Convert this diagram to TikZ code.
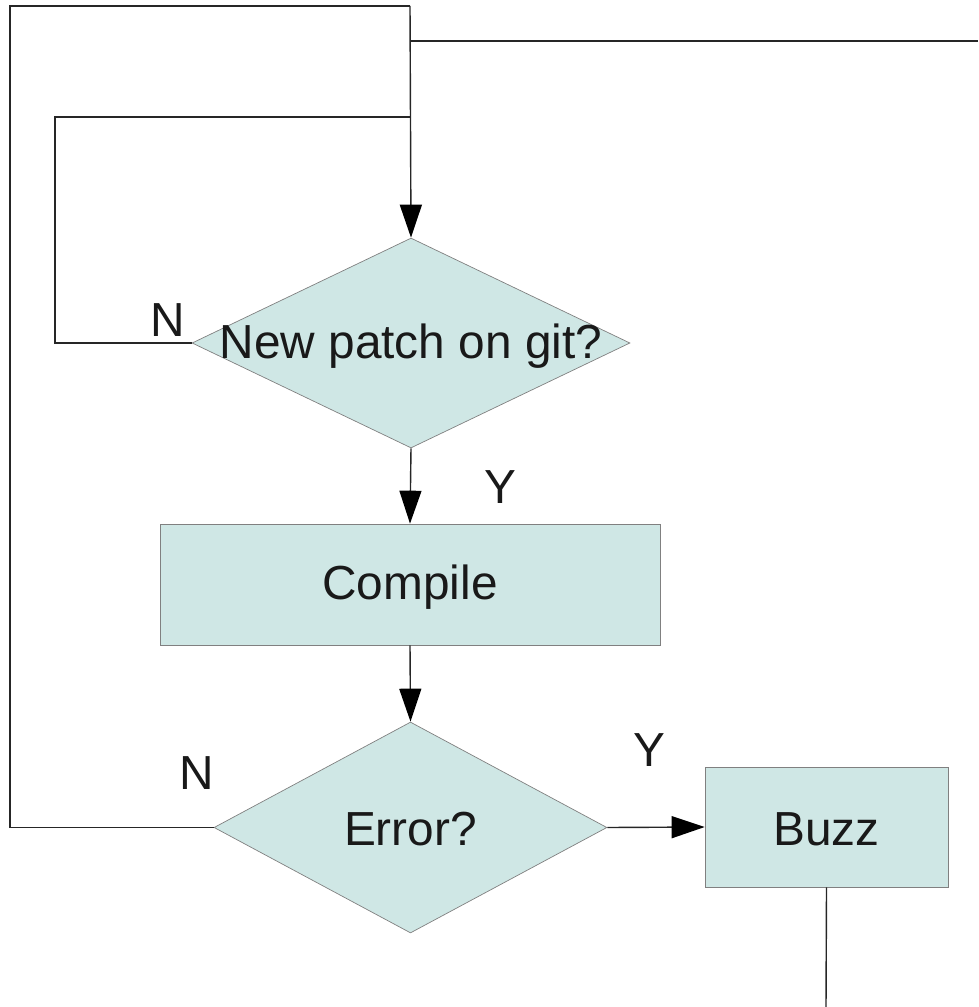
\documentclass[tikz,border=0pt]{standalone}
\usepackage{fontspec}
\setmainfont{Liberation Sans}
\usepackage{tikz}
\usepackage{xcolor}
\usetikzlibrary{positioning, calc, shapes.geometric, arrows.meta}

\definecolor{boxfill}{RGB}{207,231,229}

\begin{document}
\begin{tikzpicture}[x=0.02cm, y=-0.02cm,
        every node/.style={font=\fontsize{27.2}{32}\selectfont, text=black!90},
        decision/.style={diamond, draw=gray, fill=boxfill, inner sep=0pt},
        process/.style={rectangle, draw=gray, fill=boxfill, inner sep=0pt},
        link/.style={draw=black!85, line width=0.8pt},
        arrow/.style={link, -{Triangle[length=0.66cm, width=0.44cm, color=black]}}]
        \useasboundingbox (0,0) rectangle (978,1007);
        \node[decision, minimum width=8.76cm, minimum height=4.2cm] (q1) at (411,343) {};
        \node (q1txt) at ($(q1.center)+(0,3)$) {New patch on git?};
        \node[process, minimum width=10cm, minimum height=2.42cm] (compile) at (410,584.5) {};
        \node (comptxt) at ($(compile.center)+(0,3)$) {Compile};
        \node[decision, minimum width=7.86cm, minimum height=4.22cm] (q2) at (410.5,827.5) {};
        \node (q2txt) at ($(q2.center)+(0,2)$) {Error?};
        \node[process, minimum width=4.86cm, minimum height=2.4cm] (buzz) at (826.5,827) {};
        \node (buzztxt) at ($(buzz.center)+(0,2)$) {Buzz};
        \node (n1) at (168,320) {N};
        \node (y1) at (500,487) {Y};
        \node (n2) at (197,773) {N};
        \node (y2) at (649,750) {Y};
        \coordinate (top) at (410,6);
        \coordinate (nw) at (10,6);
        \coordinate (join) at (410,41);
        \coordinate (exit) at (978,41);
        \coordinate (merge) at (410,117);
        \coordinate (tail) at (826,1007);
        \draw[arrow] (top) -- (q1.north);
        \draw[link] (q1.west) -| (55,117) -- (merge);
        \draw[link] (q2.west) -| (nw) -- (top);
        \draw[link] (join) -- (exit);
        \draw[arrow] (q1.south) -- (compile.north);
        \draw[arrow] (compile.south) -- (q2.north);
        \draw[arrow] (q2.east) -- (buzz.west);
        \draw[link] (buzz.south) -- (tail);
    \end{tikzpicture}
\end{document}
